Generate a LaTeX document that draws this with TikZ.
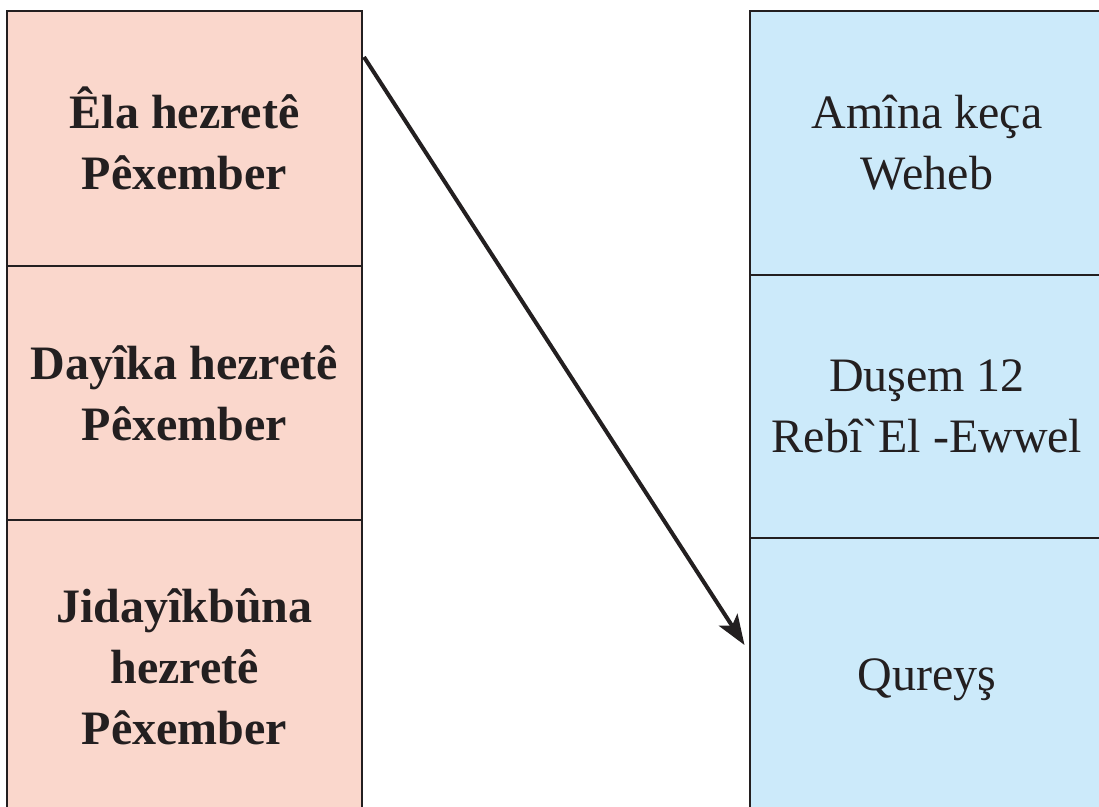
\documentclass[tikz,border=0pt]{standalone}
\usepackage{fontspec}
\setmainfont{Liberation Serif}[Ligatures=TeXOff]
\usepackage{tikz}
\usetikzlibrary{arrows.meta, positioning, calc}
\definecolor{leftcolor}{RGB}{250,215,204}
\definecolor{rightcolor}{RGB}{204,234,250}
\definecolor{linecolor}{RGB}{35,31,32}

\begin{document}
\begin{tikzpicture}[
    x=1pt, y=-1pt,
    cell/.style={draw=linecolor, line width=2pt, fill=#1, minimum width=355pt, outer sep=0pt, inner sep=0pt, align=center, text=linecolor, font=\fontsize{48}{61}\selectfont},
    boldcell/.style={cell=#1, font=\fontsize{48}{61}\selectfont\bfseries}
]
    \clip (0,0) rectangle (1099,806);
    \fill[white] (0,0) rectangle (1099,806);
    % Left column
    \node[boldcell=leftcolor, minimum height=255pt] (ela) at (184.5,138.5) {Êla hezretê\\Pêxember};
    \node[boldcell=leftcolor, minimum height=254pt, below=0pt of ela] (dayika) {Dayîka hezretê\\Pêxember};
    \node[boldcell=leftcolor, minimum height=294pt, below=0pt of dayika] (jidayik) {Jidayîkbûna\\hezretê\\Pêxember};

    % Right column
    \node[cell=rightcolor, minimum height=264pt] (amina) at (927,143) {Amîna keça\\Weheb};
    \node[cell=rightcolor, minimum height=263pt, below=0pt of amina] (dusem) {Duşem 12\\Rebî`El -Ewwel};
    \node[cell=rightcolor, minimum height=284pt, below=0pt of dusem] (qureys) {Qureyş};

    \draw[linecolor, line width=4pt, -{Stealth[length=30pt, width=22pt, inset=7pt]}]
        ($(ela.north east)+(2,46)$) -- ($(qureys.west)+(-5,-35)$);
\end{tikzpicture}
\end{document}
